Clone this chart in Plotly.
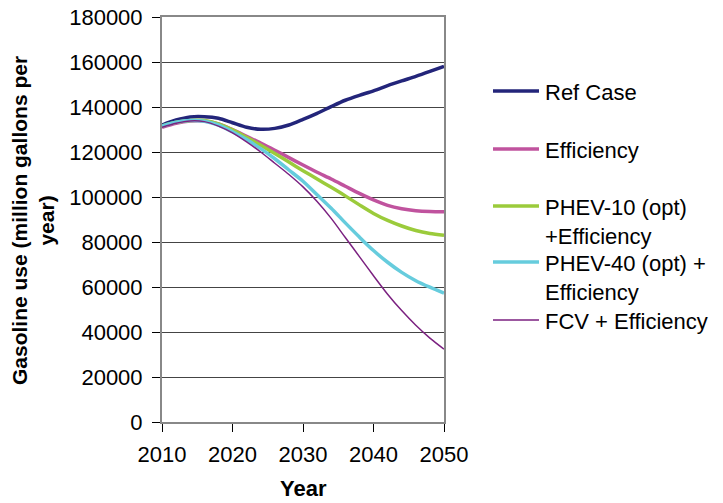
import plotly.graph_objects as go

years = [2010, 2012, 2014, 2016, 2018, 2020, 2022, 2024, 2026, 2028, 2030,
         2032, 2034, 2036, 2038, 2040, 2042, 2044, 2046, 2048, 2050]

ref_case = [132000, 134200, 135600, 135700, 135000, 133000, 131000, 130100, 130500, 132000, 134500,
            137200, 140200, 143000, 145200, 147200, 149500, 151600, 153600, 155800, 158100]
efficiency = [131000, 132800, 133800, 133800, 132500, 130000, 127000, 124000, 120800, 117500, 114200,
              111000, 108000, 104800, 101600, 98700, 96300, 94800, 93900, 93500, 93400]
phev10 = [131500, 133200, 134000, 134000, 132500, 129800, 126500, 123000, 119300, 115500, 111700,
          108000, 104300, 100500, 96500, 92700, 89600, 87100, 85100, 83800, 83000]
phev40 = [131500, 133200, 134000, 133700, 132000, 129000, 125500, 121500, 117000, 112000, 107000,
          101000, 95000, 88500, 82200, 76200, 71000, 66500, 62800, 59900, 57300]
fcv = [131000, 132800, 133800, 133500, 131500, 128500, 124500, 120000, 115000, 110000, 104500,
       98000, 90500, 82000, 73500, 65000, 56800, 49500, 43000, 37300, 32400]

series_names = ["Ref Case", "Efficiency", "PHEV-10 (opt)<br>+Efficiency",
                "PHEV-40 (opt) +<br>Efficiency", "FCV + Efficiency"]
series_values = [ref_case, efficiency, phev10, phev40, fcv]
colors = ["#23257A", "#C0539E", "#9BCB3B", "#66CCDD", "#7B2180"]
widths = [3.5, 3.5, 3.5, 3.5, 1.5]

y_ticks = [0, 20000, 40000, 60000, 80000, 100000, 120000, 140000, 160000, 180000]
y_tick_labels = [str(v) for v in y_ticks]
x_ticks = [2010, 2020, 2030, 2040, 2050]

FONT = "Arial, Liberation Sans, sans-serif"
W, H = 723, 503
L, R, T, B = 162, 444, 17, 422

fig = go.Figure()
for name, vals, c, w in zip(series_names, series_values, colors, widths):
    fig.add_trace(go.Scatter(x=years, y=vals, mode="lines", name=name,
                             line=dict(color=c, width=w, shape="spline", smoothing=0.8),
                             showlegend=False))

def px(x):
    return (x - L) / (R - L)

def py(y):
    return (B - y) / (B - T)

legend_y = [91, 149, 206, 262, 320]
annotations = []
shapes = []
for name, c, w, ly in zip(series_names, colors, widths, legend_y):
    shapes.append(dict(type="line", xref="paper", yref="paper",
                       x0=px(493), x1=px(539), y0=py(ly), y1=py(ly),
                       line=dict(color=c, width=w)))
    annotations.append(dict(text=name, xref="paper", yref="paper",
                            x=px(544), y=py(ly - 12), xanchor="left", yanchor="top",
                            align="left", showarrow=False, borderpad=0,
                            font=dict(family=FONT, size=22, color="#000")))

annotations.append(dict(text="<b>Gasoline use (million gallons per<br>year)</b>",
                        xref="paper", yref="paper", x=px(33), y=py(221),
                        xanchor="center", yanchor="middle", textangle=-90,
                        showarrow=False, font=dict(family=FONT, size=21, color="#000")))
annotations.append(dict(text="<b>Year</b>", xref="paper", yref="paper",
                        x=px(303), y=py(488), xanchor="center", yanchor="middle",
                        showarrow=False, font=dict(family=FONT, size=22, color="#000")))

fig.update_layout(
    width=W, height=H,
    margin=dict(l=L, r=W - R, t=T, b=H - B, pad=0, autoexpand=False),
    paper_bgcolor="white", plot_bgcolor="white",
    font=dict(family=FONT, size=22, color="#000"),
    annotations=annotations, shapes=shapes,
)
fig.update_xaxes(range=[2010, 2050], tickvals=x_ticks, ticks="outside", ticklen=8,
                 tickcolor="#000", showgrid=False, showline=True, linecolor="#888",
                 linewidth=2, mirror=True, zeroline=False, tickfont=dict(size=22),
                 automargin=False, ticklabeloverflow="allow", ticklabelstandoff=4)
fig.update_yaxes(range=[0, 180000], tickvals=y_ticks, ticktext=y_tick_labels,
                 ticks="outside", ticklen=8,
                 tickcolor="#000", showgrid=True, gridcolor="#444", gridwidth=1,
                 showline=True, linecolor="#888", linewidth=2, mirror=True,
                 zeroline=False, tickfont=dict(size=22), ticklabelstandoff=5,
                 automargin=False, ticklabeloverflow="allow")

fig.write_html("out.html", config={"displayModeBar": False},
               post_script="document.body.style.margin='0';")
